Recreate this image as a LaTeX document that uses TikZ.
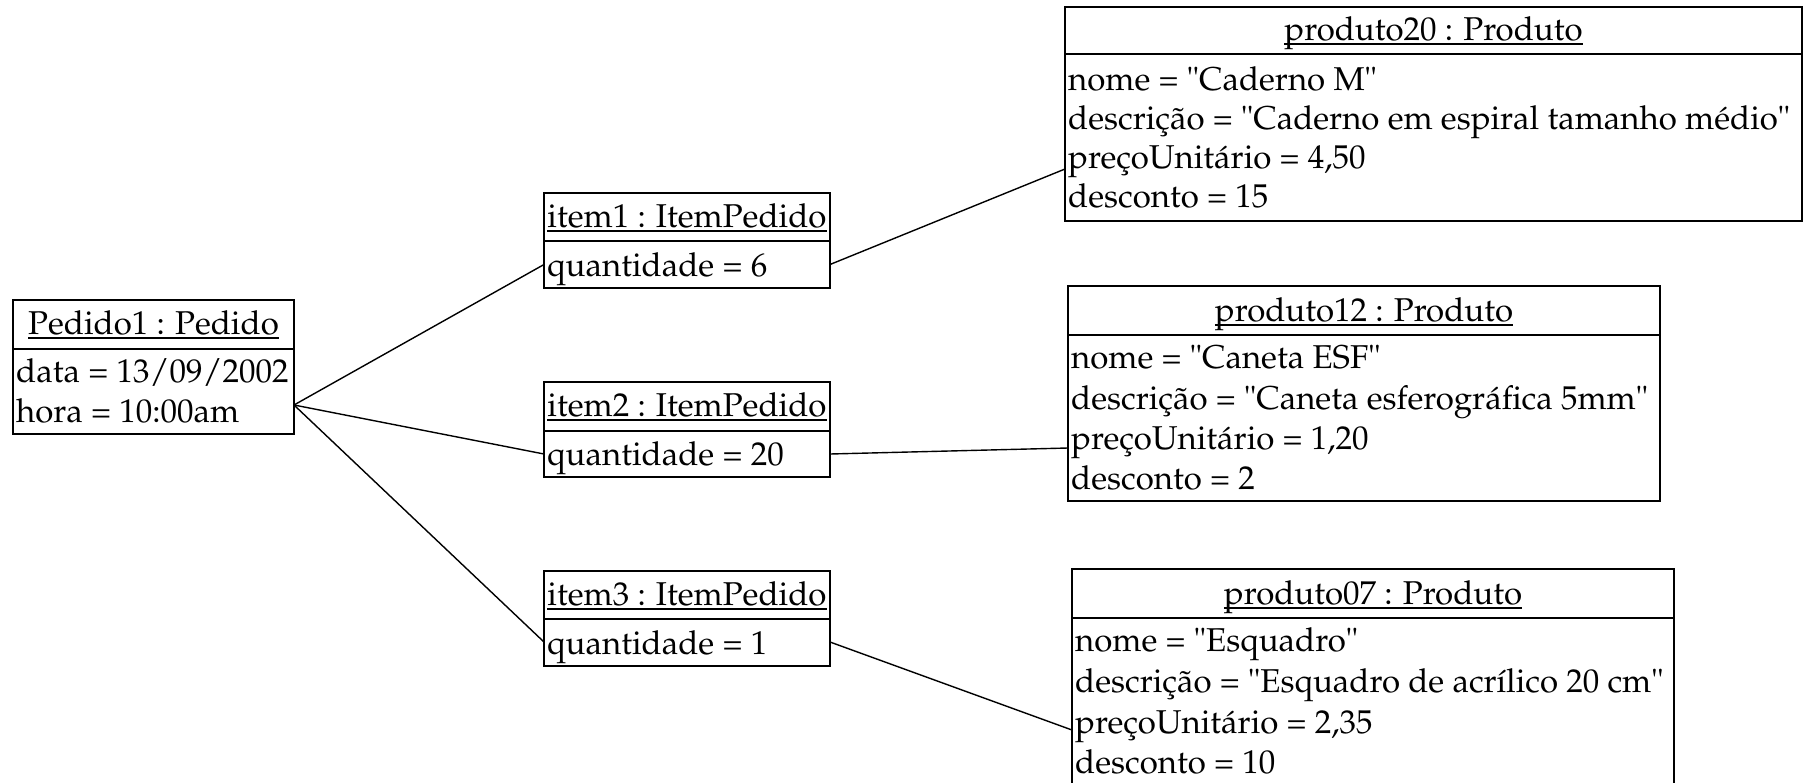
\documentclass[tikz,border=0pt]{standalone}
\usepackage[T1]{fontenc}
\usepackage{mathpazo}
\newcommand\myul[1]{\setbox0\hbox{#1}\rlap{\rule[-4.5pt]{\wd0}{1.5pt}}\box0}
\begin{document}
\begin{tikzpicture}[x=1pt,y=-1pt,
  objbox/.style={draw,line width=2.2pt,rectangle,inner sep=0pt,outer sep=0pt,anchor=north west},
  divline/.style={line width=2.2pt},
  conn/.style={line width=1.4pt},
  ttl/.style={inner sep=0pt,anchor=base,font=\fontsize{33}{38.5}\selectfont},
  attr/.style={inner sep=0pt,anchor=base west,font=\fontsize{33}{38.5}\selectfont}]
\useasboundingbox (0,0) rectangle (1811,782);
% boxes
\node[objbox,minimum width=281pt,minimum height=134pt] (pedido) at (13,300) {};
\node[objbox,minimum width=286pt,minimum height=95pt] (item1) at (544,193) {};
\node[objbox,minimum width=286pt,minimum height=95pt] (item2) at (544,382) {};
\node[objbox,minimum width=286pt,minimum height=95pt] (item3) at (544,571) {};
\node[objbox,minimum width=737pt,minimum height=214pt] (prod20) at (1065,7) {};
\node[objbox,minimum width=592pt,minimum height=215pt] (prod12) at (1068,286) {};
\node[objbox,minimum width=602pt,minimum height=240pt] (prod07) at (1072,569) {};
% dividers
\draw[divline] (pedido.west |- 0,349) -- (pedido.east |- 0,349);
\draw[divline] (item1.west |- 0,241) -- (item1.east |- 0,241);
\draw[divline] (item2.west |- 0,431) -- (item2.east |- 0,431);
\draw[divline] (item3.west |- 0,619) -- (item3.east |- 0,619);
\draw[divline] (prod20.west |- 0,54) -- (prod20.east |- 0,54);
\draw[divline] (prod12.west |- 0,335) -- (prod12.east |- 0,335);
\draw[divline] (prod07.west |- 0,618) -- (prod07.east |- 0,618);
% titles
\node[ttl] (tped) at (153.5,334) {\myul{Pedido1 : Pedido}};
\node[ttl] (ti1) at (687,227) {\myul{item1 : ItemPedido}};
\node[ttl] (ti2) at (687,416) {\myul{item2 : ItemPedido}};
\node[ttl] (ti3) at (687,605) {\myul{item3 : ItemPedido}};
\node[ttl] (tp20) at (1433.5,40) {\myul{produto20 : Produto}};
\node[ttl] (tp12) at (1364,321) {\myul{produto12 : Produto}};
\node[ttl] (tp07) at (1373,604) {\myul{produto07 : Produto}};
% attributes
\node[attr] (a1) at (16,382) {data = 13/09/2002};
\node[attr] (a2) at (16,422) {hora = 10:00am};
\node[attr] (q1) at (547,276) {quantidade = 6};
\node[attr] (q2) at (547,465) {quantidade = 20};
\node[attr] (q3) at (547,654) {quantidade = 1};
\node[attr] (p20a) at (1068,90) {nome = "Caderno M"};
\node[attr] (p20b) at (1068,129) {descri\c{c}\~{a}o = "Caderno em espiral tamanho m\'{e}dio"};
\node[attr] (p20c) at (1068,168) {pre\c{c}oUnit\'{a}rio = 4,50};
\node[attr] (p20d) at (1068,207) {desconto = 15};
\node[attr] (p12a) at (1071,368) {nome = "Caneta ESF"};
\node[attr] (p12b) at (1071,409) {descri\c{c}\~{a}o = "Caneta esferogr\'{a}fica 5mm"};
\node[attr] (p12c) at (1071,449) {pre\c{c}oUnit\'{a}rio = 1,20};
\node[attr] (p12d) at (1071,489) {desconto = 2};
\node[attr] (p07a) at (1075,651) {nome = "Esquadro"};
\node[attr] (p07b) at (1075,692) {descri\c{c}\~{a}o = "Esquadro de acr\'{\i}lico 20 cm"};
\node[attr] (p07c) at (1075,733) {pre\c{c}oUnit\'{a}rio = 2,35};
\node[attr] (p07d) at (1075,773) {desconto = 10};
% connector ends
\coordinate (pedR) at (pedido.east |- 0,405);
\coordinate (i1L) at (item1.west |- 0,264.5);
\coordinate (i2L) at (item2.west |- 0,454);
\coordinate (i3L) at (item3.west |- 0,642);
\coordinate (i1R) at (item1.east |- 0,264.5);
\coordinate (i2R) at (item2.east |- 0,454);
\coordinate (i3R) at (item3.east |- 0,642);
\coordinate (p20L) at (prod20.west |- 0,169);
\coordinate (p12L) at (prod12.west |- 0,448);
\coordinate (p07L) at (prod07.west |- 0,730);
\draw[conn] (pedR) -- (i1L);
\draw[conn] (pedR) -- (i2L);
\draw[conn] (pedR) -- (i3L);
\draw[conn] (i1R) -- (p20L);
\draw[conn] (i2R) -- (p12L);
\draw[conn] (i3R) -- (p07L);
\end{tikzpicture}
\end{document}
